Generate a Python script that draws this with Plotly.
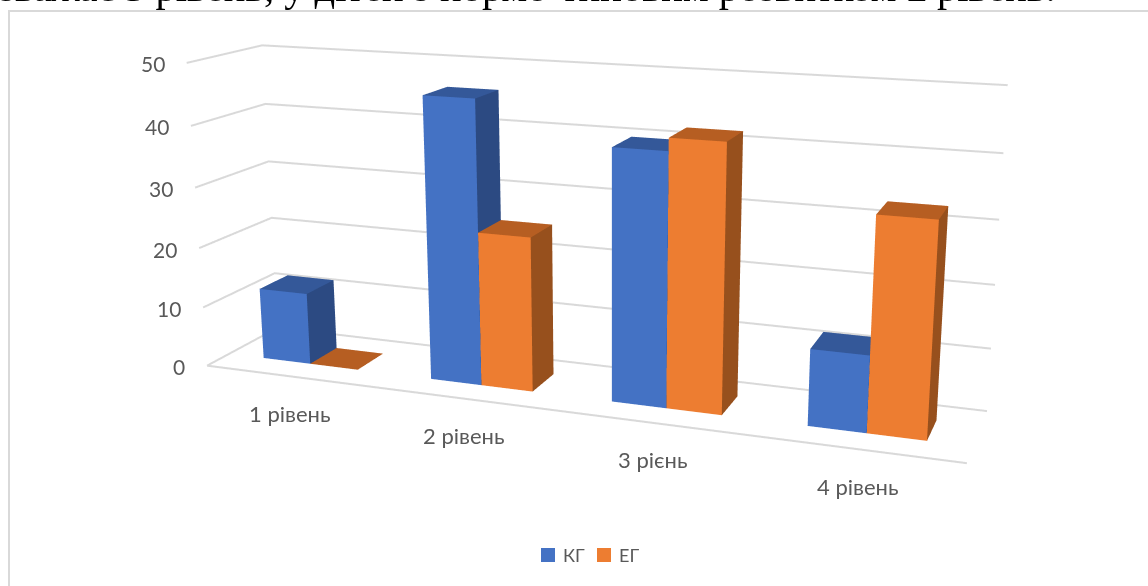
import numpy as np
import plotly.graph_objects as go

# Chart data
categories = ["1 рівень", "2 рівень", "3 рієнь", "4 рівень"]
kg_values = [12, 46, 40, 12]
eg_values = [0, 25, 42, 33]
value_ticks = [0, 10, 20, 30, 40, 50]
series_names = ["КГ", "ЕГ"]
heading = "зважає 3 рівень, у дітей з нормо-типовим розвитком <b>2</b> рівень."

FONT = "Lato"
GREY = "#595959"
GRID = "#d9d9d9"
BLUE = dict(front="#4472c4", top="#345899", side="#2c4a82")
ORANGE = dict(front="#ed7d31", top="#b65e22", side="#97501d")

WIDTH, HEIGHT = 1148, 586
VMAX = 50
NCAT = len(categories)
GAP_WIDTH = 1.5          # gap between clusters, in bar widths
BAR_DEPTH = (0.30, 0.70) # bar extent across the depth of the floor

# Linear map from (category, depth, value), each scaled to 0..1, to scene units.
# It sets the oblique look of the box as seen from the camera below.
EYE_DIST = 2.0
FOCAL = HEIGHT / 2 / np.tan(np.pi / 8)
VIEW = np.array([
    [1.40179, 0.09652, -0.00352, -0.73378],
    [0.14406, -0.07078, -0.58338, 0.14537],
    [-0.14985, 0.07545, -0.04822, 1.0],
])
LAM = EYE_DIST / 0.9387


def to_scene(x, d, v):
    h = VIEW @ np.array([x / NCAT, d, v / VMAX, 1.0])
    k = LAM * 500 / FOCAL
    return k * h[0], LAM * h[2] - EYE_DIST, -k * h[1]


def bar_mesh(x0, x1, value, colors, name):
    """Front, right and top faces of one series' bar."""
    d0, d1 = BAR_DEPTH
    corners = [(x0, d0, 0), (x1, d0, 0), (x1, d0, value), (x0, d0, value),
               (x1, d1, 0), (x1, d1, value), (x0, d1, value)]
    xyz = [to_scene(*c) for c in corners]
    faces = [(0, 1, 2, "front"), (0, 2, 3, "front"),
             (1, 4, 5, "side"), (1, 5, 2, "side"),
             (3, 2, 5, "top"), (3, 5, 6, "top")]
    return go.Mesh3d(
        x=[p[0] for p in xyz], y=[p[1] for p in xyz], z=[p[2] for p in xyz],
        i=[f[0] for f in faces], j=[f[1] for f in faces], k=[f[2] for f in faces],
        facecolor=[colors[f[3]] for f in faces],
        flatshading=True,
        lighting=dict(ambient=1, diffuse=0, specular=0, roughness=1, fresnel=0),
        hoverinfo="skip", showlegend=False, name=name,
    )


fig = go.Figure()

# Gridlines on the left and back walls, plus the front edge of the floor
for t in value_ticks:
    path = [to_scene(0, 0, t), to_scene(0, 1, t), to_scene(NCAT, 1, t)]
    fig.add_trace(go.Scatter3d(
        x=[p[0] for p in path], y=[p[1] for p in path], z=[p[2] for p in path],
        mode="lines", line=dict(color=GRID, width=4),
        hoverinfo="skip", showlegend=False))
front = [to_scene(0, 0, 0), to_scene(NCAT, 0, 0)]
fig.add_trace(go.Scatter3d(
    x=[p[0] for p in front], y=[p[1] for p in front], z=[p[2] for p in front],
    mode="lines", line=dict(color=GRID, width=4),
    hoverinfo="skip", showlegend=False))

# Clustered bars
bar_w = 1 / (2 + GAP_WIDTH)
for i in range(NCAT):
    mid = i + 0.5
    fig.add_trace(bar_mesh(mid - bar_w, mid, kg_values[i], BLUE, series_names[0]))
    fig.add_trace(bar_mesh(mid, mid + bar_w, eg_values[i], ORANGE, series_names[1]))

annotations = []
for t in value_ticks:
    x, y, z = to_scene(0, 0, t)
    annotations.append(dict(x=x, y=y, z=z, text=str(t), showarrow=False,
                            xanchor="right", yanchor="middle", xshift=-20, yshift=-1,
                            font=dict(family=FONT, size=21, color=GREY)))
for i, label in enumerate(categories):
    x, y, z = to_scene(i + 0.5, 0, 0)
    annotations.append(dict(x=x, y=y, z=z, text=label, showarrow=False,
                            xanchor="center", yanchor="middle", yshift=-37,
                            font=dict(family=FONT, size=22, color=GREY)))

hidden = dict(visible=False, range=[-1.5, 1.5], showgrid=False, zeroline=False,
              showspikes=False, showbackground=False)


def px(x):
    return x / WIDTH


def py(y):
    return 1 - y / HEIGHT


# Legend: colour keys with their series names
LEGEND_KEYS = [(541, 561), (597, 617)]
legend_shapes = [
    dict(type="rect", xref="paper", yref="paper", x0=px(kx), x1=px(kx + 14),
         y0=py(562), y1=py(548), line=dict(width=0), fillcolor=c["front"])
    for (kx, _), c in zip(LEGEND_KEYS, (BLUE, ORANGE))
]
legend_text = [
    dict(text=name, xref="paper", yref="paper", x=px(tx), y=py(555),
         xanchor="left", yanchor="middle", showarrow=False,
         font=dict(family=FONT, size=18, color=GREY))
    for name, (_, tx) in zip(series_names, LEGEND_KEYS)
]

fig.update_layout(
    width=WIDTH, height=HEIGHT, autosize=False,
    margin=dict(l=0, r=0, t=0, b=0),
    paper_bgcolor="white",
    showlegend=False,
    scene=dict(
        domain=dict(x=[0, 1], y=[0, 1]),
        xaxis=hidden, yaxis=hidden, zaxis=hidden,
        aspectmode="manual", aspectratio=dict(x=3, y=3, z=3),
        camera=dict(eye=dict(x=0, y=-EYE_DIST, z=0), center=dict(x=0, y=0, z=0),
                    up=dict(x=0, y=0, z=1), projection=dict(type="perspective")),
        annotations=annotations,
    ),
    annotations=[dict(
        text=heading, xref="paper", yref="paper", x=px(1058), y=py(12),
        xanchor="right", yanchor="bottom", showarrow=False,
        font=dict(family="Liberation Serif", size=40.5, color="black"))] + legend_text,
    shapes=[
        dict(type="line", xref="paper", yref="paper", x0=px(9), x1=px(9),
             y0=0, y1=py(11), line=dict(color=GRID, width=2)),
        dict(type="line", xref="paper", yref="paper", x0=px(8), x1=1,
             y0=py(11), y1=py(11), line=dict(color=GRID, width=2)),
    ] + legend_shapes,
)

fig.write_html("out.html", config=dict(displayModeBar=False))
